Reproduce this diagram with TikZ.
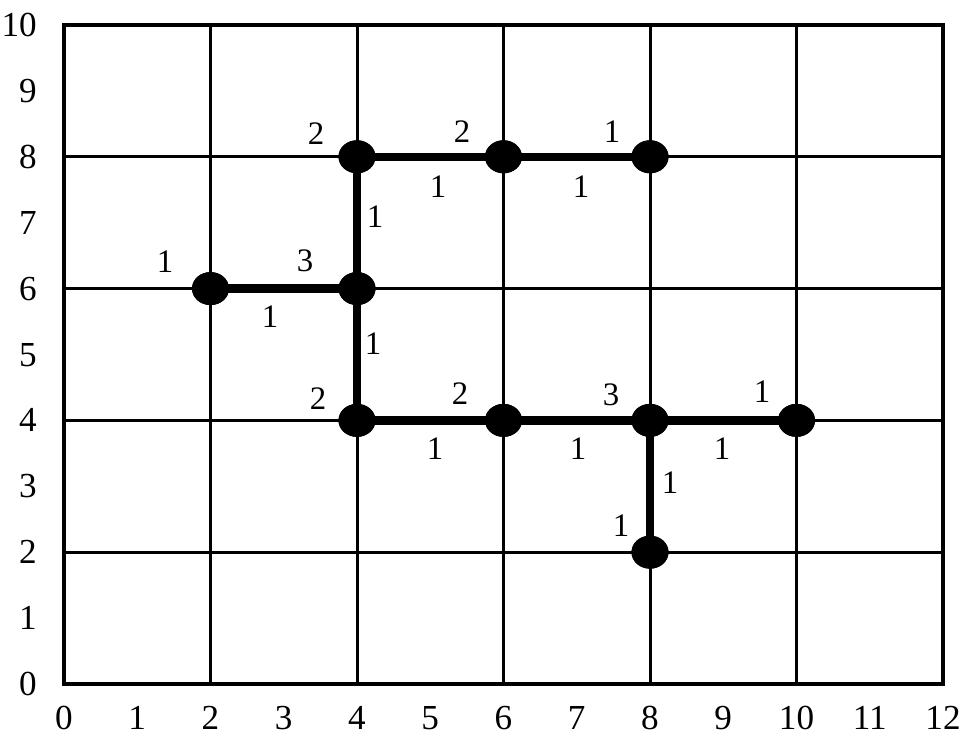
\documentclass[tikz,border=0pt]{standalone}
\usepackage{fontspec}
\setmainfont{Liberation Serif}
\usetikzlibrary{shapes.geometric}
\begin{document}
\begin{tikzpicture}[x=2.1975cm,y=1.977cm,
  gridline/.style={line width=0.09cm},
  frame/.style={line width=0.12cm},
  pathline/.style={line width=0.25cm},
  vtx/.style={ellipse,fill=black,minimum width=1.11cm,minimum height=0.99cm,inner sep=0pt},
  axlab/.style={inner sep=0pt,font=\fontsize{30}{33}\selectfont},
  elab/.style={inner sep=0pt,anchor=base,font=\fontsize{28}{31}\selectfont}]
\useasboundingbox (-0.8737,-0.8194) rectangle (12.273,10.379);
% grid
\foreach \x in {2,4,...,10} \draw[gridline] (\x,0) -- (\x,10);
\foreach \y in {2,4,...,8} \draw[gridline] (0,\y) -- (12,\y);
\draw[frame] (0,0) rectangle (12,10);
% axis labels
\foreach \x in {0,...,12} \node[axlab,anchor=base] (xl\x) at (\x,-0.69) {\x};
\foreach \y in {0,...,10} \node[axlab,anchor=base east] (yl\y) at (-0.369,\y-0.175) {\y};
% vertices
\node[vtx] (a) at (2,6) {};
\node[vtx] (b) at (4,6) {};
\node[vtx] (c) at (4,8) {};
\node[vtx] (d) at (6,8) {};
\node[vtx] (e) at (8,8) {};
\node[vtx] (f) at (4,4) {};
\node[vtx] (g) at (6,4) {};
\node[vtx] (h) at (8,4) {};
\node[vtx] (i) at (10,4) {};
\node[vtx] (j) at (8,2) {};
% edges
\draw[pathline] (a.center) -- (b.center);
\draw[pathline] (b.center) -- (c.center);
\draw[pathline] (c.center) -- (d.center);
\draw[pathline] (d.center) -- (e.center);
\draw[pathline] (b.center) -- (f.center);
\draw[pathline] (f.center) -- (g.center);
\draw[pathline] (g.center) -- (h.center);
\draw[pathline] (h.center) -- (i.center);
\draw[pathline] (h.center) -- (j.center);
% redraw vertices on top
\foreach \n in {a,b,c,d,e,f,g,h,i,j} \fill (\n) ellipse (0.555cm and 0.495cm);
% labels
\node[elab] (l1) at (1.379,6.388-0.15) {1};
\node[elab] (l2) at (3.290,6.404-0.15) {3};
\node[elab] (l3) at (2.812,5.554-0.15) {1};
\node[elab] (l4) at (4.246,7.071-0.15) {1};
\node[elab] (l5) at (3.440,8.331-0.15) {2};
\node[elab] (l6) at (5.433,8.361-0.15) {2};
\node[elab] (l7) at (7.481,8.361-0.15) {1};
\node[elab] (l8) at (5.106,7.527-0.15) {1};
\node[elab] (l9) at (7.058,7.527-0.15) {1};
\node[elab] (l10) at (4.218,5.144-0.15) {1};
\node[elab] (l11) at (3.468,4.310-0.15) {2};
\node[elab] (l12) at (5.406,4.385-0.15) {2};
\node[elab] (l13) at (7.468,4.370-0.15) {3};
\node[elab] (l14) at (9.529,4.416-0.15) {1};
\node[elab] (l15) at (5.065,3.551-0.15) {1};
\node[elab] (l16) at (7.017,3.551-0.15) {1};
\node[elab] (l17) at (8.983,3.551-0.15) {1};
\node[elab] (l18) at (8.273,3.035-0.15) {1};
\node[elab] (l19) at (7.604,2.382-0.15) {1};
\end{tikzpicture}
\end{document}
